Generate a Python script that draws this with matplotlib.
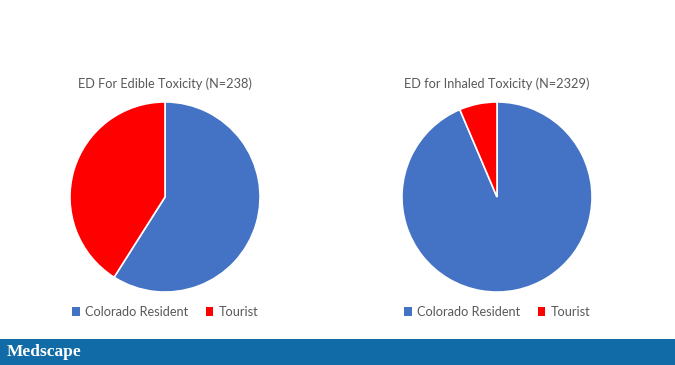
import matplotlib
matplotlib.use("Agg")
import matplotlib.pyplot as plt
from matplotlib.patches import Patch, Rectangle

plt.rcParams["font.family"] = ["Lato", "DejaVu Sans"]

labels = ["Colorado Resident", "Tourist"]
colors = ["#4472C4", "#FF0000"]
edible = [59, 41]
inhaled = [93.6, 6.4]
titles = ["ED For Edible Toxicity (N=238)", "ED for Inhaled Toxicity (N=2329)"]

W, H = 675, 365
fig = plt.figure(figsize=(W / 100, H / 100), dpi=100)
fig.patch.set_facecolor("white")

def px(x, y, w, h):
    # pixel box (top-left origin) -> figure fraction
    return [x / W, 1 - (y + h) / H, w / W, h / H]

centers = [(165, 197), (497, 197)]
r = 96
for (cx, cy), vals, title in zip(centers, [edible, inhaled], titles):
    ax = fig.add_axes(px(cx - r, cy - r, 2 * r, 2 * r))
    ax.pie(vals, colors=colors, startangle=90, counterclock=False, radius=1,
           wedgeprops=dict(edgecolor="white", linewidth=1.2))
    ax.set_xlim(-1.01, 1.01)
    ax.set_ylim(-1.01, 1.01)
    ax.set_aspect("equal")
    ax.axis("off")
    fig.text(cx / W, 1 - 84 / H, title, ha="center", va="center",
             fontsize=9.2, color="#595959")
    handles = [Patch(facecolor=c, edgecolor="none") for c in colors]
    fig.legend(handles, labels, loc="center", ncol=2, frameon=False,
               bbox_to_anchor=(cx / W, 1 - 312 / H), fontsize=9.2,
               labelcolor="#595959", handlelength=0.6, handleheight=0.6,
               handletextpad=0.4, columnspacing=1.4)

# Medscape footer band
fig.patches.append(Rectangle((0, 0), 1, 26 / H, transform=fig.transFigure,
                             facecolor="#106BA6", edgecolor="none", zorder=0))
fig.text(7 / W, 13 / H, "Medscape", ha="left", va="center", color="white",
         fontsize=12.5, family="Liberation Serif", weight="bold")

fig.savefig("out.png", dpi=100)
